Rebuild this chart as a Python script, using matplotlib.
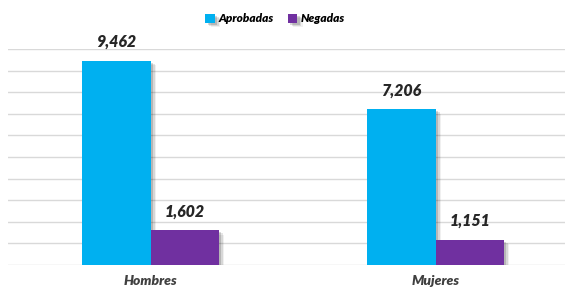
import matplotlib.pyplot as plt
import matplotlib.patheffects as pe
import numpy as np

categories = ["Hombres", "Mujeres"]
aprobadas = [9462, 7206]
negadas = [1602, 1151]
series_names = ["Aprobadas", "Negadas"]

plt.rcParams['font.family'] = ['Lato', 'DejaVu Sans']

fig = plt.figure(figsize=(5.65, 2.9), dpi=100)
ax = fig.add_axes([8 / 565, 25 / 290, 557 / 565, 216 / 290])

x = np.arange(len(categories))
w = 0.239

shadow = [pe.SimplePatchShadow(offset=(4, -3), shadow_rgbFace='k', alpha=0.06),
          pe.SimplePatchShadow(offset=(3, -2.2), shadow_rgbFace='k', alpha=0.1),
          pe.SimplePatchShadow(offset=(2, -1.5), shadow_rgbFace='k', alpha=0.15),
          pe.Normal()]

b1 = ax.bar(x - w / 2, aprobadas, w, color='#00B0F0', label=series_names[0], zorder=3)
b2 = ax.bar(x + w / 2, negadas, w, color='#7030A0', label=series_names[1], zorder=3)
for b in list(b1) + list(b2):
    b.set_path_effects(shadow)

for bars, vals in ((b1, aprobadas), (b2, negadas)):
    for r, v in zip(bars, vals):
        ax.annotate(f"{v:,}", (r.get_x() + r.get_width() / 2, v),
                    xytext=(0, 8), textcoords='offset points',
                    ha='center', va='bottom', fontsize=11.5, fontweight='heavy',
                    fontstyle='italic', color='#262626')

ax.set_xlim(-0.5, 1.454)
ax.set_ylim(0, 10000)
ax.set_yticks(np.arange(0, 10001, 1000))
ax.yaxis.grid(True, color='#D9D9D9', linewidth=1, zorder=0)
ax.set_axisbelow(True)
ax.tick_params(axis='y', left=False, labelleft=False)
ax.tick_params(axis='x', bottom=False, pad=4)
ax.set_xticks(x)
ax.set_xticklabels(categories, fontsize=10, fontweight='heavy', fontstyle='italic', color='#404040')
for s in ax.spines.values():
    s.set_visible(False)

fig.legend(loc='center', bbox_to_anchor=(275 / 565, 1 - 19 / 290), ncol=2, frameon=False,
           prop={'size': 8.5, 'weight': 'heavy', 'style': 'italic'},
           handlelength=0.8, handleheight=0.8, handletextpad=0.3, columnspacing=1.2)

fig.savefig('out.png', dpi=100)
